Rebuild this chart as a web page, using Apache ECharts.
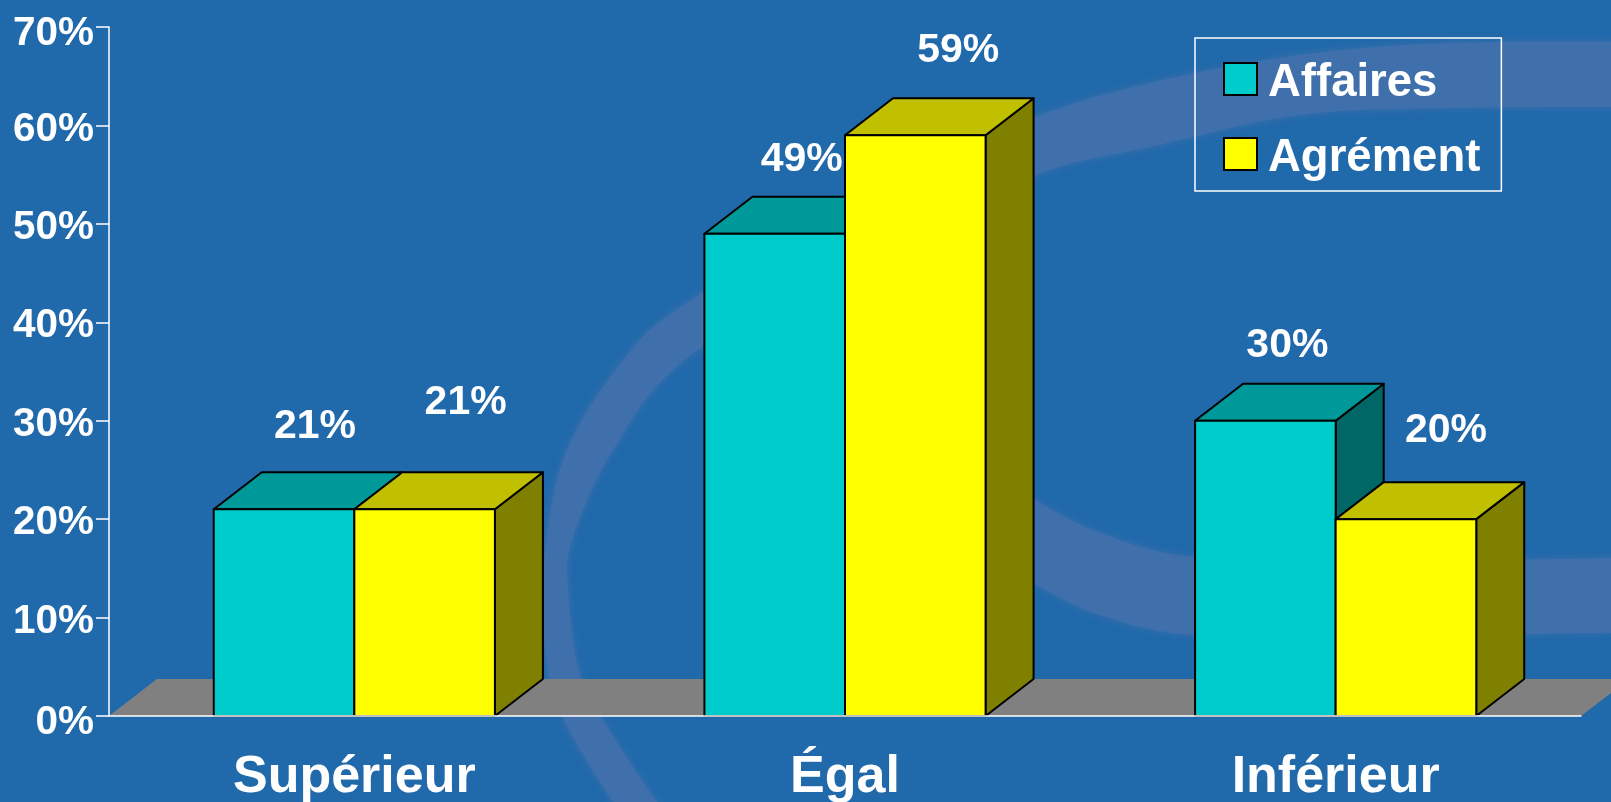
<!DOCTYPE html>
<html><head><meta charset="utf-8">
<style>html,body{margin:0;padding:0;background:#2069ab}#c{width:1611px;height:802px}</style>
<script src="https://cdn.jsdelivr.net/npm/echarts@6/dist/echarts.min.js"></script>
</head><body><div id="c"></div>
<script>
const categories = ['Supérieur', 'Égal', 'Inférieur'];
const seriesNames = ['Affaires', 'Agrément'];
const affaires = [21, 49, 30];
const agrement = [21, 59, 20];
const yTickMax = 70;
const yTickStep = 10;

const FONT = '"Liberation Sans", Arial, sans-serif';
const DX = 48, DY = 37, BAR_RATIO = 0.2865;
const faces = [
  {front:'#00cccc', top:'#009999', side:'#006666'},
  {front:'#ffff00', top:'#c0c000', side:'#808000'}
];
// label placement relative to each bar's centre and top
const labelOffsets = [
  [[31,-83],[27,-74],[22,-75]],
  [[41,-107],[43,-85],[40,-88]]
];
const edge = {stroke:'#000', lineWidth:2, lineJoin:'round'};

function poly(points, fill){
  return {type:'polygon', shape:{points}, style:Object.assign({fill}, edge)};
}
function barRenderer(si){
  return function(params, api){
    const i = api.value(0), v = api.value(1);
    const base = api.coord([i, 0]), top = api.coord([i, v]);
    const w = api.size([1, 0])[0] * BAR_RATIO;
    const x0 = base[0] + (si - 1) * w, x1 = x0 + w;
    const yT = top[1], yB = base[1];
    const c = faces[si], off = labelOffsets[si][i];
    return {type:'group', children:[
      poly([[x1,yT],[x1+DX,yT-DY],[x1+DX,yB-DY],[x1,yB]], c.side),
      poly([[x0,yT],[x0+DX,yT-DY],[x1+DX,yT-DY],[x1,yT]], c.top),
      poly([[x0,yT],[x1,yT],[x1,yB],[x0,yB]], c.front),
      {type:'text', z2:50, style:{text:v+'%', x:(x0+x1)/2+off[0], y:yT+off[1],
        fill:'#fff', align:'center', verticalAlign:'middle',
        font:'bold 41px '+FONT}}
    ]};
  };
}
function floorRenderer(params, api){
  const r = params.coordSys;
  const yB = r.y + r.height, xL = r.x, xR = r.x + r.width;
  return {type:'polygon', shape:{points:[[xL,yB],[xL+DX,yB-DY],[xR+DX,yB-DY],[xR,yB]]},
    style:{fill:'#808080'}};
}

// decorative background swoosh: edges traced with a Catmull-Rom curve
function curve(p){
  const out = [];
  for (let i = 0; i < p.length - 1; i++) {
    const a = p[Math.max(i-1,0)], b = p[i], c = p[i+1], d = p[Math.min(i+2,p.length-1)];
    for (let k = 0; k < 12; k++) {
      const t = k/12, t2 = t*t, t3 = t2*t;
      out.push([0,1].map(j => 0.5*(2*b[j] + (c[j]-a[j])*t + (2*a[j]-5*b[j]+4*c[j]-d[j])*t2 + (3*b[j]-a[j]-3*c[j]+d[j])*t3)));
    }
  }
  out.push(p[p.length-1]);
  return out;
}
const swooshColor = '#3f70ac';
const arcOuter = [[640,840],[613,802],[567,726],[547,665],[544,563],[567,450],[633,348],[700,294],[860,190],[1033,118],[1150,83],[1300,55],[1450,43],[1660,42]];
const arcInner = [[1660,107],[1450,108],[1300,115],[1150,147],[1033,176],[860,260],[687,358],[613,450],[573,537],[568,588],[580,675],[610,731],[657,802],[690,840]];
const lowTop = [[985,470],[1033,499],[1100,533],[1192,557],[1350,562],[1660,557]];
const lowBottom = [[1660,632],[1350,636],[1192,635],[1100,615],[1033,583],[985,550]];
const swoosh = (a, b) => ({type:'polygon', silent:true, z:0, shape:{points:curve(a).concat(curve(b))},
  style:{fill:swooshColor, shadowBlur:9, shadowColor:swooshColor}});

const yLabelStyle = {color:'#fff', fontFamily:FONT, fontWeight:'bold', fontSize:40.5};
const chart = echarts.init(document.getElementById('c'));
chart.setOption({
  backgroundColor:'#2069ab',
  animation:false,
  graphic:[swoosh(arcOuter, arcInner), swoosh(lowTop, lowBottom)],
  grid:{left:109, right:30, top:27, bottom:86, outerBoundsMode:'none'},
  legend:{
    left:1195, top:38, orient:'vertical',
    padding:[14,21,10,28], itemWidth:33, itemHeight:32, itemGap:21,
    borderColor:'#fff', borderWidth:1.5,
    formatter:'{t|{name}}',
    data:[
      {name:seriesNames[0], icon:'rect', itemStyle:{color:faces[0].front, borderColor:'#000', borderWidth:2}},
      {name:seriesNames[1], icon:'rect', itemStyle:{color:faces[1].front, borderColor:'#000', borderWidth:2}}
    ],
    textStyle:{color:'#fff', fontFamily:FONT, fontWeight:'bold', fontSize:45.5, lineHeight:46,
      rich:{t:{color:'#fff', fontFamily:FONT, fontWeight:'bold', fontSize:45.5, lineHeight:46, padding:[8,0,0,6]}}}
  },
  xAxis:{
    type:'category', data:categories, z:5,
    axisLine:{lineStyle:{color:'#fff', width:1.5}},
    axisTick:{length:12, alignWithLabel:false, lineStyle:{color:'#fff', width:1.5}},
    axisLabel:{color:'#fff', fontFamily:FONT, fontWeight:'bold', fontSize:52, margin:36, interval:0}
  },
  yAxis:{
    type:'value', min:0, max:yTickMax, interval:yTickStep, z:5,
    axisLine:{show:true, lineStyle:{color:'#fff', width:1.5}},
    axisTick:{show:true, length:13, lineStyle:{color:'#fff', width:1.5}},
    splitLine:{show:false},
    axisLabel:{margin:15,
      formatter: v => (v === 0 || v === yTickMax) ? '{b|'+v+'%}' : '{a|'+v+'%}',
      rich:{a:Object.assign({padding:[8,0,0,0]}, yLabelStyle), b:Object.assign({padding:[14,0,0,0]}, yLabelStyle)}}
  },
  series:[
    {type:'custom', name:'Plancher', z:1, renderItem:floorRenderer, data:[[0,0]], clip:false, silent:true},
    {type:'custom', name:seriesNames[0], z:2, renderItem:barRenderer(0), data:affaires.map((v,i)=>[i,v]), encode:{x:0,y:1}, clip:false},
    {type:'custom', name:seriesNames[1], z:3, renderItem:barRenderer(1), data:agrement.map((v,i)=>[i,v]), encode:{x:0,y:1}, clip:false}
  ]
});
</script></body></html>
